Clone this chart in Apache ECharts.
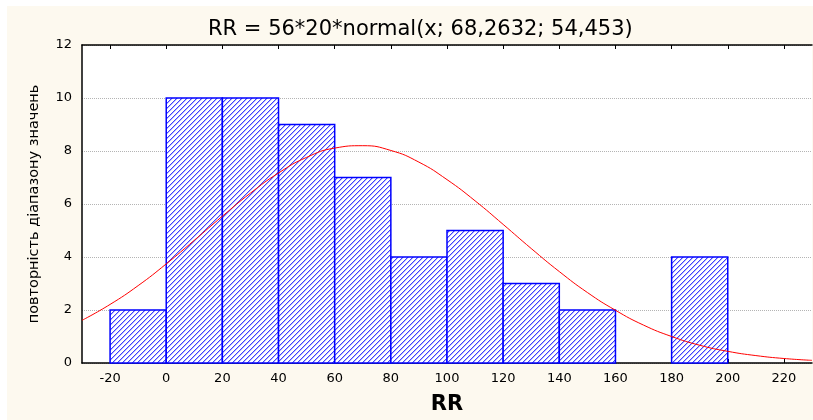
<!DOCTYPE html>
<html>
<head>
<meta charset="utf-8">
<script src="https://cdn.jsdelivr.net/npm/echarts@6/dist/echarts.min.js"></script>
<style>
  html, body { margin: 0; padding: 0; background: #fff; }
  #main { width: 813px; height: 420px; }
</style>
</head>
<body>
<div id="main"></div>
<script>
// histogram bins (RR) and counts
var binEdges = [-20, 0, 20, 40, 60, 80, 100, 120, 140, 160, 180, 200];
var counts = [2, 10, 10, 9, 7, 4, 5, 3, 2, 0, 4];

// fitted normal curve
var curveX = [-30, -20, -10, 0, 10, 20, 30, 40, 50, 60, 70, 80, 90, 100, 110, 120, 130, 140, 150, 160, 170, 180, 190, 200, 210, 220, 230];
var curveY = [1.61, 2.21, 2.92, 3.74, 4.63, 5.54, 6.41, 7.17, 7.76, 8.11, 8.20, 8.02, 7.58, 6.92, 6.12, 5.23, 4.32, 3.45, 2.66, 1.99, 1.43, 1.00, 0.67, 0.44, 0.28, 0.17, 0.10];

var xTicks = [-20, 0, 20, 40, 60, 80, 100, 120, 140, 160, 180, 200, 220];

var titleText = 'RR = 56*20*normal(x; 68,2632; 54,453)';
var yName = 'повторність діапазону значень';
var xName = 'RR';

// hatch pattern like the original bars ("/" stripes, 5px period)
var P = 5;
var hatch = document.createElement('canvas');
hatch.width = P;
hatch.height = P;
var hc = hatch.getContext('2d');
hc.fillStyle = '#ffffff';
hc.fillRect(0, 0, P, P);
for (var i = 0; i < P; i++) {
    hc.fillStyle = '#4040ff';
    hc.fillRect(i, P - 1 - i, 1, 1);
    hc.fillStyle = '#b4b4ff';
    hc.fillRect(i, (P - i) % P, 1, 1);
}

var barData = counts.map(function (c, i) {
    return [binEdges[i], binEdges[i + 1], c];
});
var lineData = curveX.map(function (x, i) {
    return [x, curveY[i]];
});

var myChart = echarts.init(document.getElementById('main'));
var font = 'DejaVu Sans';

var option = {
    backgroundColor: '#ffffff',
    animation: false,
    graphic: [
        {
            type: 'rect',
            left: 7,
            top: 6,
            z: -10,
            shape: { width: 806, height: 414 },
            style: { fill: '#fdf9ef' }
        }
    ],
    title: {
        text: titleText,
        left: 203,
        top: 14,
        textStyle: { fontFamily: font, fontSize: 21, fontWeight: 'normal', color: '#000' }
    },
    grid: {
        left: 82,
        top: 45,
        right: 1,
        bottom: 52,
        show: true,
        backgroundColor: '#ffffff',
        borderWidth: 0
    },
    xAxis: [
        {
            type: 'value',
            min: -30,
            max: 230,
            position: 'bottom',
            name: xName,
            nameLocation: 'middle',
            nameGap: 31,
            nameTextStyle: { fontFamily: font, fontSize: 21, fontWeight: 'bold', color: '#000' },
            axisLine: { onZero: false, lineStyle: { color: '#000', width: 1.5 } },
            axisTick: { inside: true, length: 4, customValues: xTicks, lineStyle: { color: '#000' } },
            axisLabel: { customValues: xTicks, fontFamily: font, fontSize: 13, color: '#000', margin: 9 },
            splitLine: { show: false }
        },
        {
            type: 'value',
            min: -30,
            max: 230,
            position: 'top',
            axisLine: { onZero: false, lineStyle: { color: '#000', width: 1.5 } },
            axisTick: { inside: true, length: 4, customValues: xTicks, lineStyle: { color: '#000' } },
            axisLabel: { show: false },
            splitLine: { show: false }
        }
    ],
    yAxis: {
        type: 'value',
        min: 0,
        max: 12,
        interval: 2,
        name: yName,
        nameLocation: 'middle',
        nameGap: 40,
        nameTextStyle: { fontFamily: font, fontSize: 14.5, color: '#000' },
        axisLine: { show: true, onZero: false, lineStyle: { color: '#000', width: 1.5 } },
        axisTick: { show: false },
        axisLabel: { fontFamily: font, fontSize: 13, color: '#000', margin: 10 },
        splitLine: { lineStyle: { color: '#b4b4b4', type: 'dotted', width: 1 } }
    },
    series: [
        {
            type: 'custom',
            xAxisIndex: 0,
            encode: { x: [0, 1], y: 2 },
            data: barData,
            renderItem: function (params, api) {
                var h = api.value(2);
                if (!h) return null;
                var p0 = api.coord([api.value(0), h]);
                var p1 = api.coord([api.value(1), 0]);
                return {
                    type: 'rect',
                    shape: { x: p0[0], y: p0[1], width: p1[0] - p0[0], height: p1[1] - p0[1] },
                    style: {
                        fill: { image: hatch, repeat: 'repeat' },
                        stroke: '#0000ff',
                        lineWidth: 1.5
                    }
                };
            },
            z: 2
        },
        {
            type: 'line',
            xAxisIndex: 0,
            data: lineData,
            smooth: true,
            showSymbol: false,
            lineStyle: { color: '#ff0000', width: 1 },
            z: 3
        }
    ]
};

myChart.setOption(option);
</script>
</body>
</html>
